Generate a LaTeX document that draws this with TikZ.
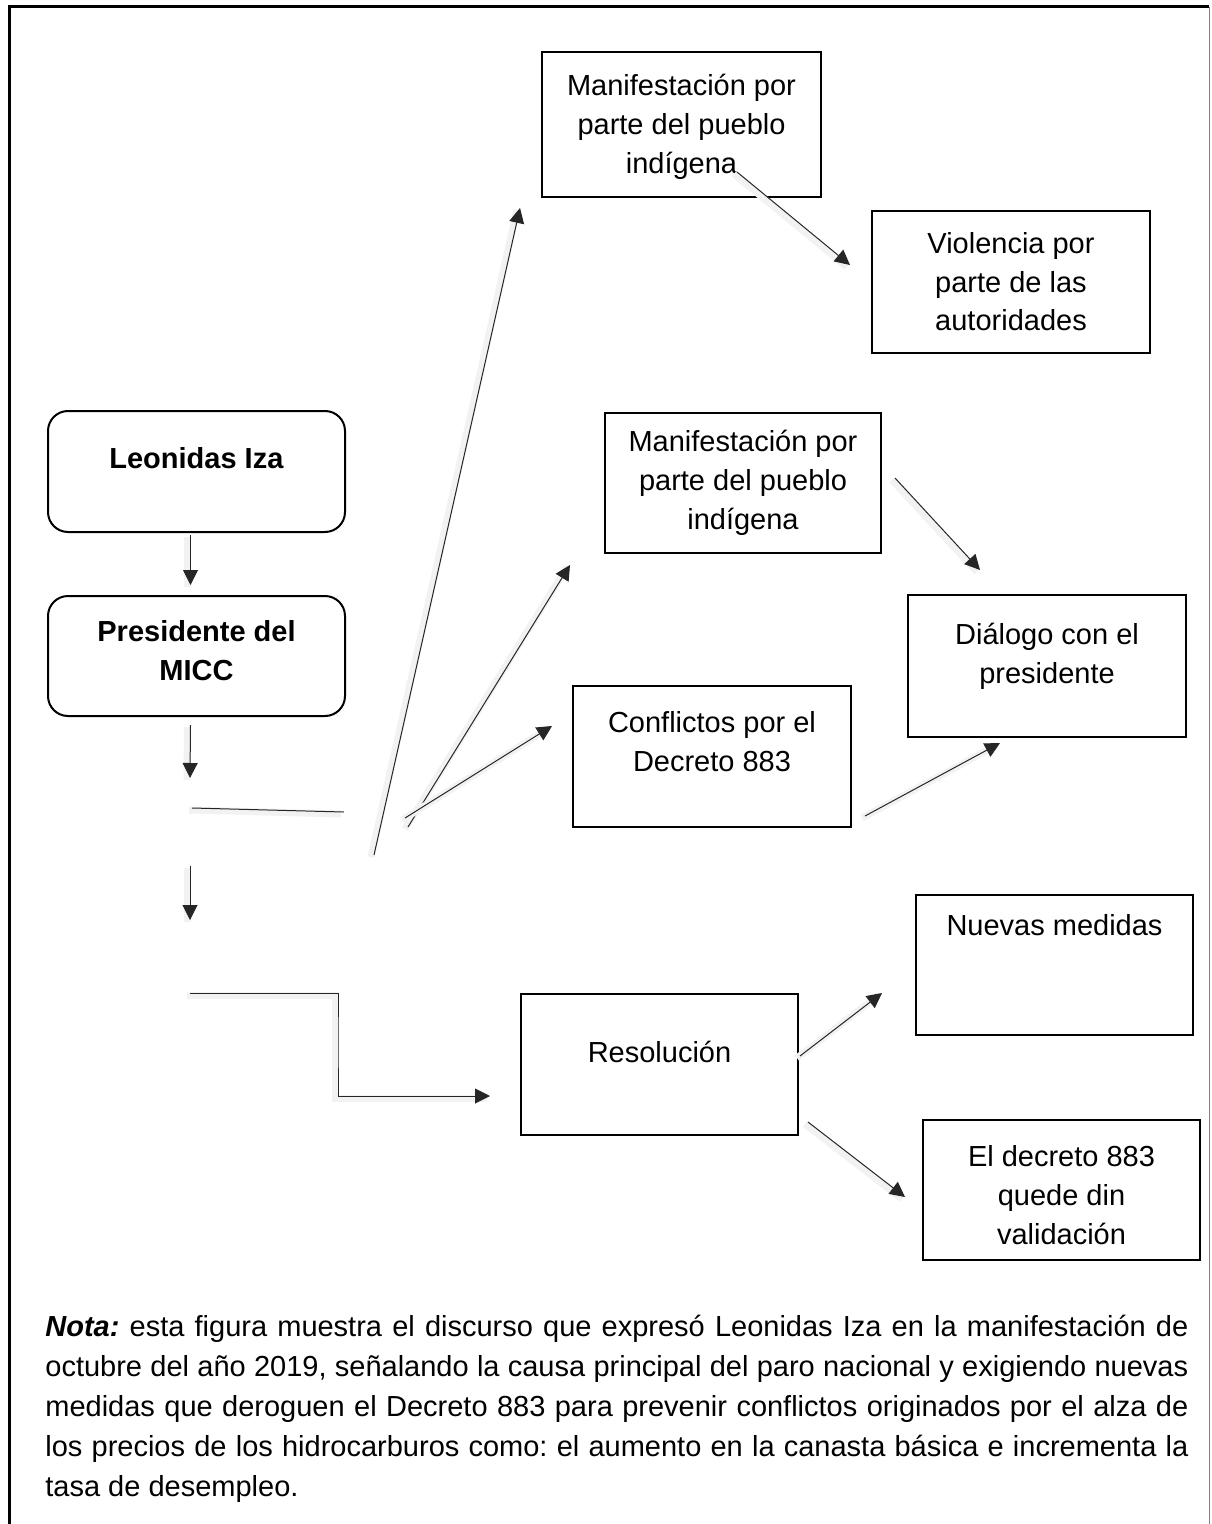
\documentclass[tikz,border=0pt]{standalone}
\usepackage{fontspec}
\setmainfont{Liberation Sans}
\usetikzlibrary{arrows.meta, calc}

% text of a box: width, height, first baseline from the top, lines
\newcommand{\textocaja}[4]{\parbox[c][#2][t]{#1}{\centering\rule{0pt}{#3}#4}}

\begin{document}
\frenchspacing
\begin{tikzpicture}[
  x=0.5pt, y=-0.5pt,
  every node/.style={font=\fontsize{14.5}{19.5}\selectfont},
  caja/.style={draw, line width=1pt, inner sep=0mm, outer sep=0mm},
  redonda/.style={caja, rounded corners=10pt},
  sombra/.style={preaction={draw=black!5, line width=3.5pt, -, transform canvas={shift={(-1.5pt,-1pt)}}}},
  linea/.style={line width=0.5pt, draw=black!85, sombra},
  flecha/.style={linea, -{Triangle[length=7.5pt,width=7.5pt]}},
  nota/.style={anchor=base west, inner sep=0mm, text width=571.5pt, align=justify,
    font=\fontsize{14.5}{20}\selectfont},
]
\useasboundingbox (0,0) rectangle (1211,1524);

% frame
\draw[line width=1.5pt] (9,1524) -- (9,7) -- (1209,7);
\draw[gray, line width=0.5pt] (1209,7) -- (1209,1524);

% left column
\node[redonda] (lider) at (196.5,471.5) {\textocaja{148.5pt}{60.5pt}{28.5pt}{\textbf{Leonidas Iza}}};
\node[redonda] (presi) at (196.5,656) {\textocaja{148.5pt}{60pt}{22.5pt}{\textbf{Presidente del}\\\textbf{MICC}}};

% boxes
\node[caja] (manif1) at (681.5,124.5) {\textocaja{139.5pt}{72.5pt}{22pt}{Manifestación por\\parte del pueblo\\indígena}};
\node[caja] (violencia) at (1011,282) {\textocaja{139pt}{71pt}{21pt}{Violencia por\\parte de las\\autoridades}};
\node[caja] (manif2) at (743,483) {\textocaja{138pt}{70pt}{19pt}{Manifestación por\\parte del pueblo\\indígena}};
\node[caja] (dialogo) at (1047,666) {\textocaja{139pt}{71pt}{24.5pt}{Diálogo con el\\presidente}};
\node[caja] (conflictos) at (712,756.5) {\textocaja{139pt}{70.5pt}{23pt}{Conflictos por el\\Decreto 883}};
\node[caja] (nuevas) at (1054.5,965) {\textocaja{138.5pt}{70pt}{20pt}{Nuevas medidas}};
\node[caja] (resol) at (659.5,1064.5) {\textocaja{138.5pt}{70.5pt}{34pt}{Resolución}};
\node[caja] (decreto) at (1061.5,1190) {\textocaja{138.5pt}{70pt}{23pt}{El decreto 883\\quede din\\validación}};

% free ends
\coordinate (c1) at (190,778);
\coordinate (c2) at (192,808);
\coordinate (c3) at (344,812);
\coordinate (c4) at (190,866);
\coordinate (c5) at (190,920);
\coordinate (c6) at (190,993);
\coordinate (c7) at (338,1040);
\coordinate (c8) at (374,855);
\coordinate (c9) at (408,827);
\coordinate (c10) at (405,818);

\draw[flecha] ($(lider.south)+(-6,3)$) -- ($(presi.north)+(-6,-11)$);
\draw[flecha] ($(presi.south)+(-6,9)$) -- (c1);
\draw[linea] (c2) -- (c3);
\draw[flecha] (c4) -- (c5);
\draw[flecha] (c6) -| (c7) |- ($(resol.west)+(-31,31.5)$);

\draw[flecha] (c8) -- ($(manif1.south west)+(-22,11)$);
\draw[flecha] (c9) -- ($(manif2.south west)+(-35,12)$);
\draw[flecha] (c10) -- ($(conflictos.west)+(-21,-30.5)$);

\draw[flecha] ($(manif1.south)+(55.5,-25)$) -- ($(violencia.west)+(-22,-17)$);
\draw[flecha] ($(manif2.east)+(14,-5)$) -- ($(dialogo.north)+(-67,-25)$);
\draw[flecha] ($(conflictos.south east)+(14,-11)$) -- ($(dialogo.south)+(-47,6)$);
\draw[flecha] ($(resol.east)+(2,-8.5)$) -- ($(nuevas.west)+(-34,28)$);
\draw[flecha] ($(resol.south east)+(10,-13)$) -- ($(decreto.west)+(-18,7)$);

% caption
\node[nota] (texto) at (45,1336) {\textbf{\textit{Nota:}} esta figura muestra el discurso que expresó Leonidas Iza en la manifestación de\linebreak octubre del año 2019, señalando la causa principal del paro nacional y exigiendo nuevas\linebreak medidas que deroguen el Decreto 883 para prevenir conflictos originados por el alza de\linebreak los precios de los hidrocarburos como: el aumento en la canasta básica e incrementa la\linebreak tasa de desempleo.};

\end{tikzpicture}
\end{document}
